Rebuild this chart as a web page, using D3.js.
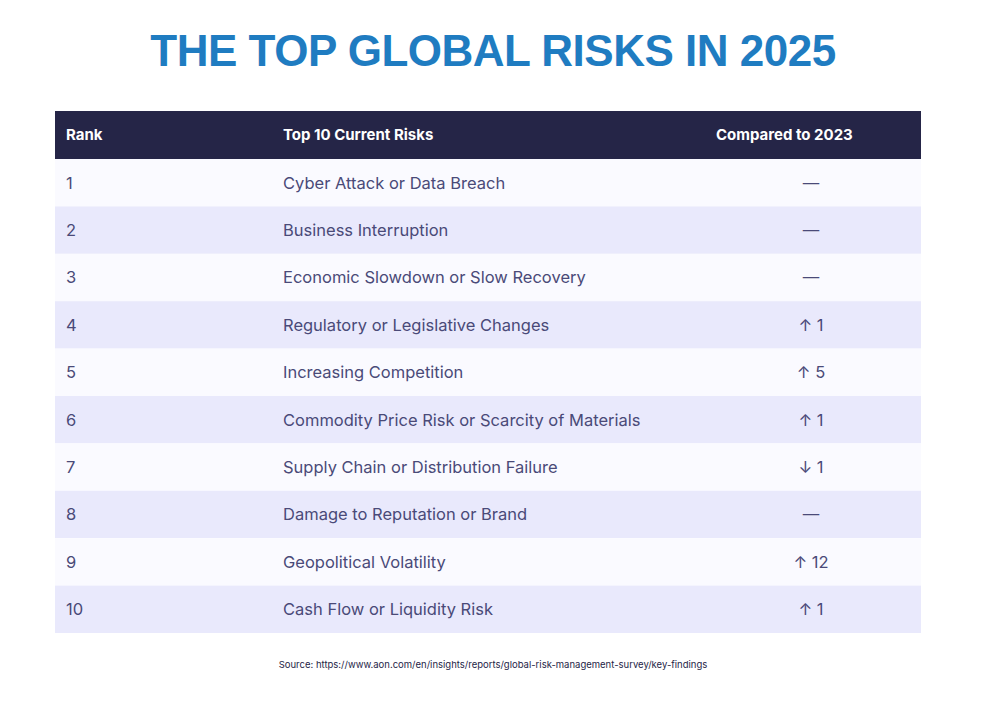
<!DOCTYPE html>
<html><head><meta charset="utf-8">
<script src="https://cdn.jsdelivr.net/npm/d3@7"></script>
<style>body{margin:0;background:#fff;}</style>
</head><body>
<svg id="chart" width="986" height="712"></svg>
<script>
const headers = ["Rank", "Top 10 Current Risks", "Compared to 2023"];
const ranks = [1, 2, 3, 4, 5, 6, 7, 8, 9, 10];
const risks = ["Cyber Attack or Data Breach", "Business Interruption", "Economic Slowdown or Slow Recovery",
  "Regulatory or Legislative Changes", "Increasing Competition", "Commodity Price Risk or Scarcity of Materials",
  "Supply Chain or Distribution Failure", "Damage to Reputation or Brand", "Geopolitical Volatility",
  "Cash Flow or Liquidity Risk"];
const changes = ["—", "—", "—", "↑ 1", "↑ 5", "↑ 1", "↓ 1", "—", "↑ 12", "↑ 1"];

const svg = d3.select("#chart");
const font = "Inter, 'Noto Sans', sans-serif";
const left = 55, right = 921, headTop = 111, headH = 48, bottom = 633;

svg.append("text").attr("x", 493).attr("y", 66).attr("text-anchor", "middle")
  .attr("font-family", "'Liberation Sans', Arial, sans-serif").attr("font-weight", "bold")
  .attr("font-size", 44).attr("fill", "#1f7cc1").attr("letter-spacing", -0.5)
  .text("THE TOP GLOBAL RISKS IN 2025");

const y = d3.scaleBand().domain(ranks).range([headTop + headH, bottom]);

svg.append("rect").attr("x", left).attr("y", headTop).attr("width", right - left)
  .attr("height", headH).attr("fill", "#252547");
const hx = [66, 283, 716];
svg.selectAll(".hd").data(headers).join("text")
  .attr("x", (d, i) => hx[i]).attr("y", headTop + headH / 2 + 5)
  .attr("font-family", font).attr("font-weight", "bold").attr("font-size", 15)
  .attr("fill", "#fff").text(d => d);

const row = svg.selectAll(".row").data(ranks).join("g")
  .attr("transform", d => `translate(0,${y(d)})`);
row.append("rect").attr("x", left).attr("width", right - left).attr("height", y.bandwidth())
  .attr("fill", (d, i) => i % 2 ? "#e9e9fc" : "#fafaff");
const ty = y.bandwidth() / 2 + 6;
const txt = sel => sel.attr("y", ty).attr("font-family", font).attr("font-size", 16.5).attr("fill", "#4a4a78");
row.append("text").attr("x", 66).call(txt).text(d => d);
row.append("text").attr("x", 283).call(txt).text((d, i) => risks[i]);
row.append("text").attr("x", 811).attr("text-anchor", "middle").call(txt).text((d, i) => changes[i]);

svg.append("text").attr("x", 493).attr("y", 668).attr("text-anchor", "middle")
  .attr("font-family", font).attr("font-size", 9.5).attr("fill", "#252547")
  .text("Source: https://www.aon.com/en/insights/reports/global-risk-management-survey/key-findings");
</script>
</body></html>
